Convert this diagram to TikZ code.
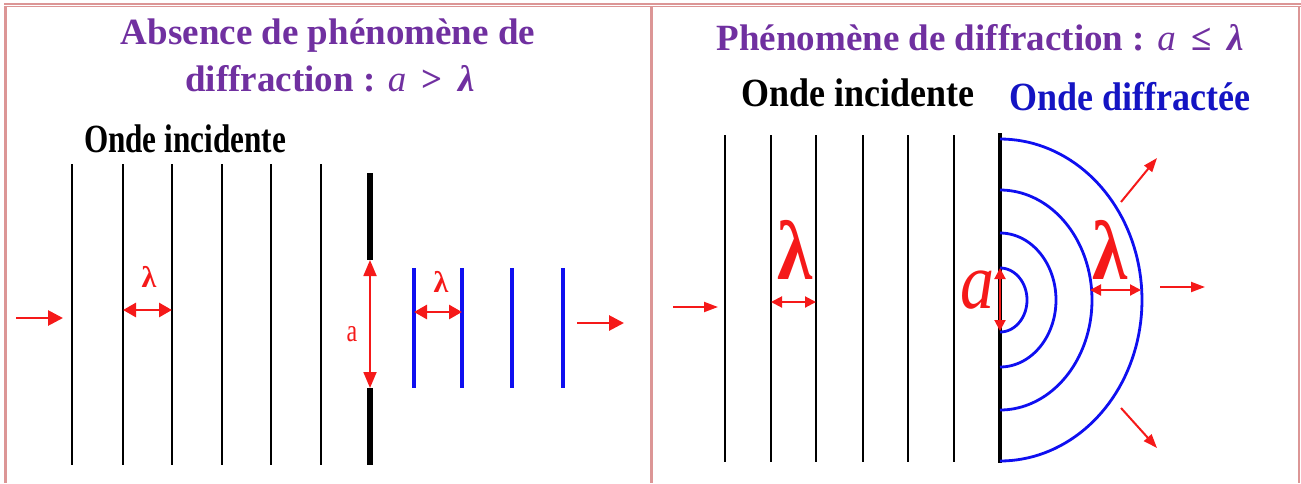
\documentclass[tikz,border=0pt]{standalone}
\usepackage{fontspec}
\setmainfont{Liberation Serif}
\usetikzlibrary{arrows.meta}
\definecolor{pinkb}{RGB}{220,150,150}
\definecolor{titlep}{RGB}{112,48,160}
\definecolor{wred}{RGB}{245,25,25}
\definecolor{wblue}{RGB}{15,15,240}
\definecolor{dblue}{RGB}{20,20,195}
\newcommand{\mvar}[1]{{\normalfont\itshape #1}}
\newcommand{\mlam}{{\bfseries\itshape λ}}
\tikzset{
  border/.style={pinkb},
  titletext/.style={text=titlep, font=\bfseries\fontsize{37}{40}\selectfont, inner sep=0pt, anchor=base},
  ondetext/.style={font=\bfseries\fontsize{40}{42}\selectfont, inner sep=0pt, anchor=base},
  wave/.style={black, line width=2.6pt},
  wavethin/.style={black, line width=2.2pt},
  barrier/.style={black, line width=6pt},
  barrierR/.style={black, line width=4.5pt},
  bluewave/.style={wblue, line width=4pt},
  arc/.style={wblue, line width=2.8pt},
  bigarrow/.style={wred, line width=2.8pt, -{Triangle[length=15pt,width=15pt]}},
  dbl/.style={wred, line width=2.8pt, {Triangle[length=13pt,width=14pt]}-{Triangle[length=13pt,width=14pt]}},
  dblthin/.style={wred, line width=1.8pt, {Triangle[length=16pt,width=13pt]}-{Triangle[length=16pt,width=13pt]}},
  thinarrow/.style={wred, line width=2pt, -{Triangle[length=14pt,width=10pt]}},
  dblR/.style={wred, line width=2pt, {Triangle[length=11pt,width=11pt]}-{Triangle[length=11pt,width=11pt]}},
  lab/.style={text=wred, inner sep=0pt},
}
\begin{document}
\begin{tikzpicture}[x=1pt,y=-1pt]
\useasboundingbox (0,0) rectangle (1301,483);
% table borders
\draw[border, line width=1.6pt] (4,3.8) -- (1301,3.8);
\draw[border, line width=1.4pt] (4,6.6) -- (1301,6.6);
\draw[border, line width=3.2pt] (5.6,6) -- (5.6,483);
\draw[border, line width=3pt] (651.5,6) -- (651.5,483);
\draw[border, line width=2.6pt] (1299,6) -- (1299,483);

% ---------------- left panel ----------------
\node[titletext] (t1a) at (328,44) {Absence de phénomène de};
\node[titletext] (t1b) at (330,91) {diffraction : \mvar{a}\, >\, \mlam};
\node[ondetext] (oi1) at (185,152) {\scalebox{0.78}[1]{Onde incidente}};

\foreach \x in {72,123,172,222,271,321} \draw[wave] (\x,164) -- (\x,465);
\draw[barrier] (370,173) -- (370,260);
\draw[barrier] (370,388) -- (370,465);
\coordinate (aT) at (370,260);
\coordinate (aB) at (370,388);
\draw[dblthin] (aT) -- (aB);
\node[lab, font=\fontsize{32}{32}\selectfont] (la) at (352,334) {\scalebox{0.75}[1]{a}};

\foreach \x in {414,462,512,563} \draw[bluewave] (\x,268) -- (\x,388);

\coordinate (l1a) at (123,310);
\coordinate (l1b) at (172,310);
\draw[dbl] (l1a) -- (l1b);
\node[lab, font=\bfseries\fontsize{30}{30}\selectfont] (lam1) at (149,277) {λ};
\coordinate (l2a) at (414,312);
\coordinate (l2b) at (462,312);
\draw[dbl] (l2a) -- (l2b);
\node[lab, font=\bfseries\fontsize{30}{30}\selectfont] (lam2) at (441,282) {λ};

\coordinate (inL0) at (16,318);
\coordinate (inL1) at (63,318);
\draw[bigarrow] (inL0) -- (inL1);
\coordinate (outL0) at (577,323);
\coordinate (outL1) at (624,323);
\draw[bigarrow] (outL0) -- (outL1);

% ---------------- right panel ----------------
\node[titletext] (t2) at (980,50) {Phénomène de diffraction : \mvar{a}\, ≤\, \mlam};
\node[ondetext] (oi2) at (858,106) {\scalebox{0.9}[1]{Onde incidente}};
\node[ondetext, text=dblue] (od) at (1130,110) {\scalebox{0.9}[1]{Onde diffractée}};

\foreach \x in {725,771,816,863,908,954} \draw[wavethin] (\x,135) -- (\x,462);
\draw[barrierR] (1000,133) -- (1000,463);

\foreach \rx/\ry in {27/32,56/67,92/110,142/161}
  \draw[arc] plot[domain=-90:90, samples=80] ({1000+\rx*cos(\x)},{300+\ry*sin(\x)});

\coordinate (r1a) at (771,302);
\coordinate (r1b) at (816,302);
\draw[dblR] (r1a) -- (r1b);
\node[lab, font=\bfseries\fontsize{84}{84}\selectfont] (lam3) at (795,250) {\scalebox{0.85}[1]{λ}};
\coordinate (r2a) at (1090,290);
\coordinate (r2b) at (1141,290);
\draw[dblR] (r2a) -- (r2b);
\node[lab, font=\bfseries\fontsize{84}{84}\selectfont] (lam4) at (1110,250) {\scalebox{0.85}[1]{λ}};

\coordinate (raT) at (1000,268);
\coordinate (raB) at (1000,331);
\draw[dblR] (raT) -- (raB);
\node[lab, font=\itshape\fontsize{80}{80}\selectfont] (ra) at (977,290) {\scalebox{0.85}[1]{a}};

\coordinate (inR0) at (673,307);
\coordinate (inR1) at (718,307);
\draw[thinarrow] (inR0) -- (inR1);
\coordinate (oR0) at (1160,287);
\coordinate (oR1) at (1205,287);
\draw[thinarrow] (oR0) -- (oR1);
\coordinate (uR0) at (1121,202);
\coordinate (uR1) at (1157,158);
\draw[thinarrow] (uR0) -- (uR1);
\coordinate (dR0) at (1121,408);
\coordinate (dR1) at (1157,448);
\draw[thinarrow] (dR0) -- (dR1);
\end{tikzpicture}
\end{document}
